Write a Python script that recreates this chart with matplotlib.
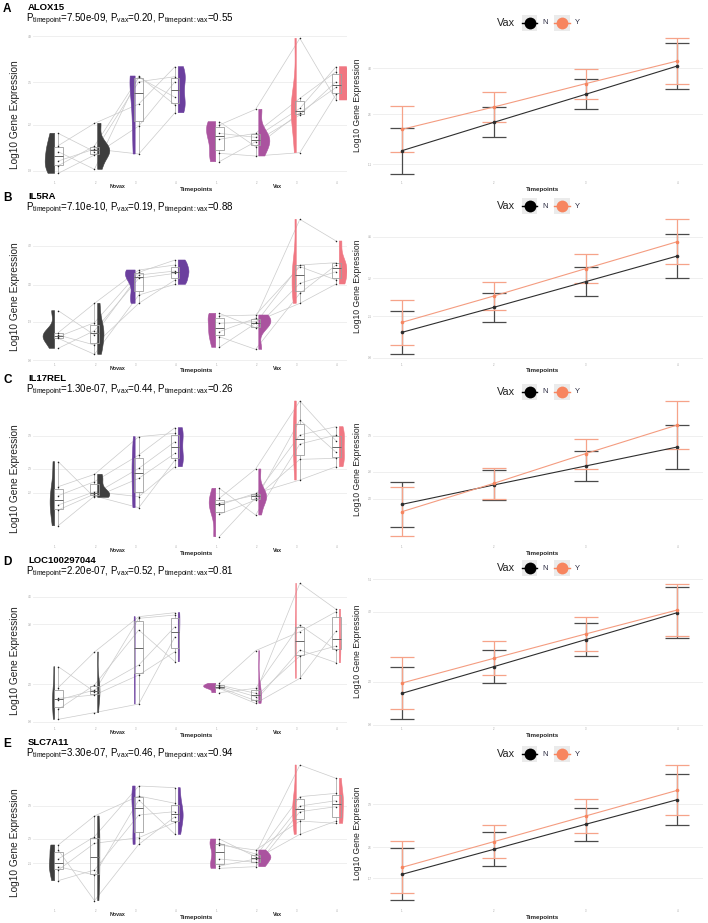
import numpy as np
import matplotlib
matplotlib.use("Agg")
import matplotlib.pyplot as plt
from matplotlib.patches import Rectangle
from matplotlib.lines import Line2D

plt.rcParams['font.family'] = ['Liberation Sans', 'DejaVu Sans']
plt.rcParams['mathtext.fontset'] = 'custom'
plt.rcParams['mathtext.rm'] = 'Liberation Sans'
plt.rcParams['mathtext.it'] = 'Liberation Sans:italic'
plt.rcParams['mathtext.bf'] = 'Liberation Sans:bold'

# ------------------------------------------------------------------ data
panel_letters = ["A", "B", "C", "D", "E"]
genes = ["ALOX15", "IL5RA", "IL17REL", "LOC100297044", "SLC7A11"]
p_timepoint = ["7.50e-09", "7.10e-10", "1.30e-07", "2.20e-07", "3.30e-07"]
p_vax = ["0.20", "0.19", "0.44", "0.52", "0.46"]
p_inter = ["0.55", "0.88", "0.26", "0.81", "0.94"]
timepoint_labels = ["1", "2", "3", "4"]
group_labels = ["Novax", "Vax"]
vax_levels = ["N", "Y"]

# per-subject values, one list per timepoint (index = subject)
ALOX15_NOVAX = [[2.00, 1.63, 1.45, 1.17, 1.03, 0.80],
                [1.45, 2.30, 0.92, 1.53, 1.62, 1.35],
                [3.55, 2.88, 3.72, 1.38, 3.68, 2.22],
                [3.70, 4.00, 2.85, 2.62, 3.08, 3.55]]
ALOX15_VAX = [[2.35, 2.25, 2.00, 1.82, 1.40, 1.15],
              [1.60, 2.72, 1.88, 2.00, 1.32, 1.75],
              [2.62, 4.85, 2.75, 3.05, 1.42, 2.55],
              [3.38, 3.00, 4.00, 3.85, 3.17, 3.55]]
IL5RA_NOVAX = [[2.23, 1.57, 1.50, 1.45, 1.40, 1.10],
               [1.50, 2.45, 1.20, 1.87, 0.92, 1.63],
               [3.30, 3.45, 2.45, 3.38, 2.70, 3.20],
               [3.42, 3.60, 3.15, 3.75, 3.02, 3.35]]
IL5RA_VAX = [[2.15, 2.07, 1.85, 1.60, 1.45, 1.13],
             [1.72, 2.10, 1.90, 2.00, 1.07, 1.85],
             [3.05, 3.55, 2.45, 4.97, 2.75, 3.60],
             [3.40, 3.15, 3.03, 4.32, 3.60, 3.67]]
IL17REL_NOVAX = [[3.10, 2.35, 2.08, 1.80, 1.65, 1.18],
                 [2.03, 2.72, 2.50, 2.20, 2.13, 2.07],
                 [2.60, 3.85, 3.30, 2.05, 2.90, 1.72],
                 [3.35, 3.95, 4.12, 2.95, 3.70, 3.15]]
IL17REL_VAX = [[2.30, 2.00, 1.85, 1.80, 1.52, 0.85],
               [1.50, 2.88, 2.10, 2.15, 1.95, 2.02],
               [3.63, 4.92, 3.90, 2.55, 4.35, 3.17],
               [3.90, 3.72, 4.15, 2.95, 3.38, 3.20]]
LOC_NOVAX = [[2.50, 1.87, 1.55, 1.50, 1.22, 0.92],
             [1.75, 2.94, 1.65, 1.80, 1.95, 1.12],
             [3.95, 4.00, 2.25, 2.55, 3.60, 1.38],
             [4.05, 4.12, 2.95, 3.70, 2.65, 3.40]]
LOC_VAX = [[2.00, 1.95, 1.92, 1.88, 1.85, 1.72],
           [2.98, 1.70, 1.60, 1.48, 1.40, 1.85],
           [3.55, 5.00, 2.82, 3.00, 2.15, 3.75],
           [4.15, 4.22, 3.12, 2.62, 3.57, 3.00]]
SLC7A11_NOVAX = [[2.70, 2.55, 2.28, 2.05, 1.95, 1.63],
                 [3.57, 1.03, 2.95, 1.80, 2.75, 1.95],
                 [4.17, 2.72, 4.47, 4.05, 2.92, 3.60],
                 [3.95, 3.55, 4.42, 3.02, 3.38, 3.70]]
SLC7A11_VAX = [[2.88, 2.75, 2.70, 2.28, 2.07, 2.00],
               [2.35, 2.43, 2.55, 2.18, 2.28, 2.05],
               [4.15, 5.10, 3.42, 3.87, 3.02, 3.70],
               [4.25, 4.70, 3.35, 4.03, 3.42, 3.85]]

# right panels: mean and error half-width per timepoint
ALOX15_MEAN_N = [1.48, 2.33, 3.17, 4.02]; ALOX15_ERR_N = [0.69, 0.45, 0.45, 0.68]
ALOX15_MEAN_Y = [2.12, 2.79, 3.49, 4.17]; ALOX15_ERR_Y = [0.69, 0.45, 0.45, 0.69]
IL5RA_MEAN_N = [1.58, 2.33, 3.10, 3.87]; IL5RA_ERR_N = [0.64, 0.43, 0.43, 0.65]
IL5RA_MEAN_Y = [1.88, 2.67, 3.49, 4.30]; IL5RA_ERR_Y = [0.68, 0.43, 0.44, 0.68]
IL17REL_MEAN_N = [1.82, 2.40, 2.97, 3.54]; IL17REL_ERR_N = [0.68, 0.45, 0.45, 0.66]
IL17REL_MEAN_Y = [1.60, 2.45, 3.34, 4.20]; IL17REL_ERR_Y = [0.73, 0.47, 0.45, 0.71]
LOC_MEAN_N = [1.70, 2.50, 3.31, 4.12]; LOC_ERR_N = [0.78, 0.50, 0.50, 0.77]
LOC_MEAN_Y = [2.01, 2.75, 3.48, 4.20]; LOC_ERR_Y = [0.77, 0.51, 0.50, 0.78]
SLC7A11_MEAN_N = [1.82, 2.57, 3.32, 4.06]; SLC7A11_ERR_N = [0.78, 0.51, 0.50, 0.77]
SLC7A11_MEAN_Y = [2.03, 2.80, 3.57, 4.34]; SLC7A11_ERR_Y = [0.78, 0.50, 0.50, 0.75]

# axis ticks (gridline values)
LEFT_TICKS = [[4.92, 3.53, 2.25, 0.87], [4.18, 3.00, 1.90, 0.75],
              [3.88, 2.88, 2.17], [4.60, 3.78, 1.98, 0.85], [3.88, 2.88, 2.15]]
RIGHT_TICKS = [[3.95, 2.58, 1.08], [4.45, 3.20, 2.07, 0.82],
               [3.88, 2.80, 1.98], [5.12, 4.15, 2.05, 0.75], [3.92, 2.63, 1.70]]
YLIMS = [(0.60, 5.10), (0.705, 5.205), (0.63, 5.13), (0.72, 5.22), (0.81, 5.31)]

left_data = [(ALOX15_NOVAX, ALOX15_VAX), (IL5RA_NOVAX, IL5RA_VAX),
             (IL17REL_NOVAX, IL17REL_VAX), (LOC_NOVAX, LOC_VAX),
             (SLC7A11_NOVAX, SLC7A11_VAX)]
right_data = [(ALOX15_MEAN_N, ALOX15_ERR_N, ALOX15_MEAN_Y, ALOX15_ERR_Y),
              (IL5RA_MEAN_N, IL5RA_ERR_N, IL5RA_MEAN_Y, IL5RA_ERR_Y),
              (IL17REL_MEAN_N, IL17REL_ERR_N, IL17REL_MEAN_Y, IL17REL_ERR_Y),
              (LOC_MEAN_N, LOC_ERR_N, LOC_MEAN_Y, LOC_ERR_Y),
              (SLC7A11_MEAN_N, SLC7A11_ERR_N, SLC7A11_MEAN_Y, SLC7A11_ERR_Y)]

# ------------------------------------------------------------------ layout / style
W, H, DPI = 708, 923, 100
ROW_LABEL_Y = [9, 197.7, 380, 562, 744]
AX_TOP = [30, 211.5, 394, 576, 758]
AX_H = 150
LEGEND_Y = [23, 206, 391.7, 568, 754]
LEFT_X0, LEFT_X1 = 33, 347
RIGHT_X0, RIGHT_X1 = 373, 703

VIOLIN_COLORS = {("Novax", 0): "#3e3e3e", ("Novax", 1): "#3e3e3e",
                 ("Novax", 2): "#6b3f9e", ("Novax", 3): "#6b3f9e",
                 ("Vax", 0): "#aa539f", ("Vax", 1): "#aa539f",
                 ("Vax", 2): "#f07782", ("Vax", 3): "#f07782"}
N_COLOR = "#2e2e2e"; N_ERR = "#4a4a4a"
Y_COLOR = "#f7855f"; Y_LINE = "#f49c80"; Y_ERR = "#f6a389"
GRID = "#ececec"; TICKC = "#a0a0a0"

fig = plt.figure(figsize=(W / DPI, H / DPI), dpi=DPI)
fig.patch.set_facecolor("white")


def rect(x0, x1, top, h):
    return [x0 / W, 1 - (top + h) / H, (x1 - x0) / W, h / H]


def kde(vals, grid):
    v = np.asarray(vals, float)
    n = len(v)
    bw = 0.8 * v.std(ddof=1) * n ** -0.2
    z = (grid[:, None] - v[None, :]) / bw
    return np.exp(-0.5 * z ** 2).sum(1) / (n * bw * np.sqrt(2 * np.pi))


VW = 0.30  # max half-violin width (x units)

for r in range(5):
    top = AX_TOP[r]
    ylim = YLIMS[r]
    # ------------------------------------------------ left panel
    ax = fig.add_axes(rect(LEFT_X0, LEFT_X1, top, AX_H))
    ax.set_xlim(0.454, 8.25)
    ax.set_ylim(*ylim)
    for s in ax.spines.values():
        s.set_visible(False)
    ax.set_yticks(LEFT_TICKS[r])
    ax.set_yticklabels([f"{t:.1f}" for t in LEFT_TICKS[r]])
    ax.set_xticks(range(1, 9))
    ax.set_xticklabels(timepoint_labels * 2)
    ax.tick_params(length=0, labelsize=2, labelcolor=TICKC, pad=1)
    ax.yaxis.grid(True, color=GRID, lw=0.6)
    ax.set_axisbelow(True)

    dens = {}
    for gi in range(2):
        for ti in range(4):
            vals = left_data[r][gi][ti]
            g = np.linspace(min(vals), max(vals), 256)
            dens[(gi, ti)] = (g, kde(vals, g))
    dmax = max(d.max() for _, d in dens.values())

    for gi, gname in enumerate(group_labels):
        data = left_data[r][gi]
        xs = []
        for ti in range(4):
            pos = gi * 4 + ti + 1
            xs.append(pos + 0.08 if ti % 2 == 0 else pos - 0.02)
        nsub = len(data[0])
        for s in range(nsub):
            ax.plot(xs, [data[t][s] for t in range(4)], color="#cbcbcb",
                    lw=0.5, zorder=1)
        for ti in range(4):
            pos = gi * 4 + ti + 1
            g, d = dens[(gi, ti)]
            w = VW * d / dmax
            if ti % 2 == 0:
                base = pos - 0.01
                xv = np.concatenate([[base], base - w, [base]])
            else:
                base = pos + 0.06
                xv = np.concatenate([[base], base + w, [base]])
            yv = np.concatenate([[g[0]], g, [g[-1]]])
            ax.fill(xv, yv, color=VIOLIN_COLORS[(gname, ti)], lw=0.4,
                    ec=VIOLIN_COLORS[(gname, ti)], zorder=2)
            bp = ax.boxplot([data[ti]], positions=[xs[ti]], widths=0.22,
                            showfliers=False, showcaps=False, patch_artist=True,
                            manage_ticks=False, zorder=3)
            for b in bp["boxes"]:
                b.set_facecolor("none"); b.set_edgecolor("#a0a0a0"); b.set_linewidth(0.6)
            for wk in bp["whiskers"]:
                wk.set_color("#a0a0a0"); wk.set_linewidth(0.5)
            for m in bp["medians"]:
                m.set_color("#666666"); m.set_linewidth(0.7)
            ax.plot([xs[ti]] * len(data[ti]), data[ti], "o", color="#222222",
                    ms=1.1, mew=0, zorder=4)

    # ------------------------------------------------ right panel
    ax2 = fig.add_axes(rect(RIGHT_X0, RIGHT_X1, top, AX_H))
    ax2.set_xlim(0.684, 4.28)
    ax2.set_ylim(*ylim)
    for s in ax2.spines.values():
        s.set_visible(False)
    ax2.set_yticks(RIGHT_TICKS[r])
    ax2.set_yticklabels([f"{t:.1f}" for t in RIGHT_TICKS[r]])
    ax2.set_xticks([1, 2, 3, 4])
    ax2.set_xticklabels(timepoint_labels)
    ax2.tick_params(length=0, labelsize=2, labelcolor=TICKC, pad=1)
    ax2.yaxis.grid(True, color=GRID, lw=0.6)
    ax2.set_axisbelow(True)
    mn, en, my, ey = right_data[r]
    tp = [1, 2, 3, 4]
    ax2.errorbar(tp, mn, yerr=en, fmt="none", ecolor=N_ERR, elinewidth=0.9,
                 capsize=8.3, capthick=0.9, zorder=2)
    ax2.plot(tp, mn, color=N_COLOR, lw=0.8, zorder=3)
    ax2.plot(tp, mn, "o", color=N_COLOR, ms=2.6, mew=0, zorder=4)
    ax2.errorbar(tp, my, yerr=ey, fmt="none", ecolor=Y_ERR, elinewidth=0.9,
                 capsize=8.3, capthick=0.9, zorder=2)
    ax2.plot(tp, my, color=Y_LINE, lw=0.8, zorder=3)
    ax2.plot(tp, my, "o", color=Y_COLOR, ms=2.6, mew=0, zorder=4)

# ------------------------------------------------------------------ overlay texts / legends
ov = fig.add_axes([0, 0, 1, 1], zorder=10)
ov.set_xlim(0, W); ov.set_ylim(H, 0); ov.axis("off")

for r in range(5):
    ly = ROW_LABEL_Y[r]
    top = AX_TOP[r]
    bot = top + AX_H
    ov.text(3, ly, panel_letters[r], fontsize=8.5, fontweight="bold",
            ha="left", va="center")
    ov.text(28, ly - 1.5, genes[r], fontsize=6.8, fontweight="bold",
            ha="left", va="center")
    ptxt = (r"P$_{\mathrm{timepoint}}$=" + p_timepoint[r] +
            r", P$_{\mathrm{vax}}$=" + p_vax[r] +
            r", P$_{\mathrm{timepoint:vax}}$=" + p_inter[r])
    ov.text(26.5, ly + 11, ptxt, fontsize=7, ha="left", va="center")
    ov.text(15, top + AX_H / 2 + 10, "Log10 Gene Expression", fontsize=7.25,
            rotation=90, ha="center", va="center", color="#222222")
    ov.text(358, top + AX_H / 2, "Log10 Gene Expression", fontsize=6.2,
            rotation=90, ha="center", va="center", color="#222222")
    ov.text(117, bot + 7, group_labels[0], fontsize=3.8, fontweight="bold",
            ha="center", va="center", color="#222222")
    ov.text(277, bot + 7, group_labels[1], fontsize=3.8, fontweight="bold",
            ha="center", va="center", color="#222222")
    ov.text(197, bot + 9, "Timepoints", fontsize=4.5, fontweight="bold",
            ha="center", va="center", color="#222222")
    ov.text(543, bot + 9, "Timepoints", fontsize=4.5, fontweight="bold",
            ha="center", va="center", color="#222222")
    gy = LEGEND_Y[r]
    ov.text(497, gy, "Vax", fontsize=7.8, ha="left", va="center", color="#222222")
    for kx, col, lab, tx in [(521.7, "#000000", vax_levels[0], 542),
                             (554, Y_COLOR, vax_levels[1], 575)]:
        ov.add_patch(Rectangle((kx, gy - 8), 15.6, 16, fc="#ebebeb", ec="none"))
        ov.add_line(Line2D([kx, kx + 15.6], [gy, gy], color=col, lw=1.0))
        ov.plot([kx + 7.8], [gy], "o", color=col, ms=8.5, mew=0)
        ov.text(tx, gy, lab, fontsize=5.5, ha="left", va="center", color="#2a2a40")

fig.savefig("out.png", dpi=DPI, facecolor="white")
